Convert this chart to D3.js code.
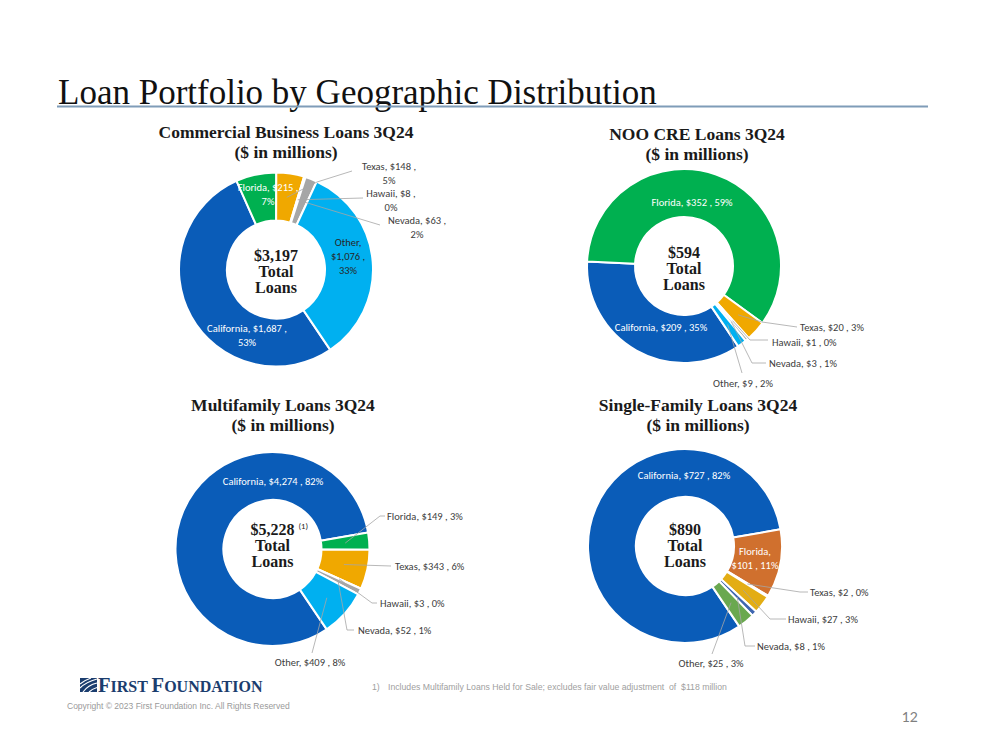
<!DOCTYPE html>
<html><head><meta charset="utf-8">
<script src="https://cdn.jsdelivr.net/npm/d3@7"></script>
<style>body{margin:0;background:#fff} svg{display:block}</style>
</head><body>
<svg id="c" width="999" height="750"></svg>
<script>
// ---------- DATA ----------
const regions = ["California", "Florida", "Texas", "Hawaii", "Nevada", "Other"];
const commercialValues = [1687, 215, 148, 8, 63, 1076];
const commercialPct    = [53, 7, 5, 0, 2, 33];
const nooCreValues     = [209, 352, 20, 1, 3, 9];
const nooCrePct        = [35, 59, 3, 0, 1, 2];
const multifamilyValues = [4274, 149, 343, 3, 52, 409];
const multifamilyPct    = [82, 3, 6, 0, 1, 8];
const singleFamilyValues = [727, 101, 2, 27, 8, 25];
const singleFamilyPct    = [82, 11, 0, 3, 1, 3];
const chartTitles = ["Commercial Business Loans 3Q24", "NOO CRE Loans 3Q24", "Multifamily Loans 3Q24", "Single-Family Loans 3Q24"];
const chartTotals = ["$3,197", "$594", "$5,228", "$890"];

// ---------- STYLE / LAYOUT ----------
const paletteStd = ["#0a5cb8", "#00b050", "#f0a800", "#a6a6a6", "#a6a6a6", "#00b0f0"];
const paletteSF  = ["#0a5cb8", "#d0702e", "#a6a6a6", "#e3ad14", "#3e66b0", "#6aa84f"];
const R_OUT = 97, R_IN = 49;
const START = 146 * Math.PI / 180;
const W = "#ffffff", DK = "#404040";

const layouts = [
  { cx: 276, cy: 269.5, tx: 286, ty: 132, textDy: -9, palette: paletteStd, values: commercialValues, pct: commercialPct,
    labels: {
      California: { x: 247, y: 328, a: "middle", c: W, lines: [[0, 1], [2]] },
      Florida:    { x: 268, y: 187, a: "middle", c: W, lines: [[0, 1], [2]] },
      Texas:      { x: 389, y: 166, a: "middle", c: DK, lines: [[0, 1], [2]], leader: [[317, 182], [352, 171]] },
      Hawaii:     { x: 391, y: 193, a: "middle", c: DK, lines: [[0, 1], [2]], leader: [[363, 198]] },
      Nevada:     { x: 417, y: 220, a: "middle", c: DK, lines: [[0, 1], [2]], leader: [[380, 225]] },
      Other:      { x: 348, y: 242, a: "middle", c: "#262626", lines: [[0], [1], [2]] }
    } },
  { cx: 684, cy: 266, tx: 697, ty: 134, textDy: -8, palette: paletteStd, values: nooCreValues, pct: nooCrePct,
    labels: {
      California: { x: 661, y: 327, a: "middle", c: W, lines: [[0, 1, 2]] },
      Florida:    { x: 692, y: 202, a: "middle", c: W, lines: [[0, 1, 2]] },
      Texas:      { x: 800, y: 327, a: "start", c: DK, lines: [[0, 1, 2]], leader: [[762, 322], [797, 327]] },
      Hawaii:     { x: 772, y: 342, a: "start", c: DK, lines: [[0, 1, 2]], leader: [[750, 340], [768, 340]] },
      Nevada:     { x: 769, y: 363, a: "start", c: DK, lines: [[0, 1, 2]], leader: [[752, 363], [766, 363]] },
      Other:      { x: 743, y: 383, a: "middle", c: DK, lines: [[0, 1, 2]], leader: [[742, 373]] }
    } },
  { cx: 272.5, cy: 549, tx: 283, ty: 405, textDy: -14, palette: paletteStd, values: multifamilyValues, pct: multifamilyPct,
    labels: {
      California: { x: 273, y: 481, a: "middle", c: W, lines: [[0, 1, 2]] },
      Florida:    { x: 387, y: 516, a: "start", c: DK, lines: [[0, 1, 2]], leader: [[380, 516], [385, 516]] },
      Texas:      { x: 395, y: 566, a: "start", c: DK, lines: [[0, 1, 2]], leader: [[391, 566]] },
      Hawaii:     { x: 380, y: 603, a: "start", c: DK, lines: [[0, 1, 2]], leader: [[372, 603], [377, 603]] },
      Nevada:     { x: 358, y: 630, a: "start", c: DK, lines: [[0, 1, 2]], leader: [[347, 630], [354, 630]] },
      Other:      { x: 310, y: 662, a: "middle", c: DK, lines: [[0, 1, 2]], leader: [[312, 653]] }
    } },
  { cx: 685, cy: 546, tx: 698, ty: 405, textDy: -11, palette: paletteSF, values: singleFamilyValues, pct: singleFamilyPct,
    labels: {
      California: { x: 684, y: 475, a: "middle", c: W, lines: [[0, 1, 2]] },
      Florida:    { x: 755, y: 551, a: "middle", c: W, lines: [[0], [1, 2]] },
      Texas:      { x: 810, y: 592, a: "start", c: DK, lines: [[0, 1, 2]], leader: [[800, 592], [808, 592]] },
      Hawaii:     { x: 788, y: 619, a: "start", c: DK, lines: [[0, 1, 2]], leader: [[770, 619], [786, 619]] },
      Nevada:     { x: 757, y: 646, a: "start", c: DK, lines: [[0, 1, 2]], leader: [[745, 646], [755, 646]] },
      Other:      { x: 711, y: 663, a: "middle", c: DK, lines: [[0, 1, 2]], leader: [[712, 654]] }
    } }
];

const svg = d3.select("#c");
svg.append("rect").attr("width", 999).attr("height", 750).attr("fill", "#fff");

// Page title
svg.append("text").attr("x", 58).attr("y", 104)
  .attr("font-family", "'Liberation Serif', serif").attr("font-size", 35).attr("fill", "#111")
  .text("Loan Portfolio by Geographic Distribution");
svg.append("line").attr("x1", 57).attr("x2", 928).attr("y1", 106.5).attr("y2", 106.5)
  .attr("stroke", "#7f9cb8").attr("stroke-width", 2);

const fmt = d3.format(",");
const LBL_FONT = "Carlito, Lato, sans-serif";
const SERIF = "'Liberation Serif', serif";

layouts.forEach((L, ci) => {
  const data = regions.map((r, i) => ({ region: r, value: L.values[i], pct: L.pct[i], idx: i }));
  const pie = d3.pie().value(d => d.value).sort(null).startAngle(START).endAngle(START + 2 * Math.PI);
  const arc = d3.arc().innerRadius(R_IN).outerRadius(R_OUT);
  const arcs = pie(data);
  const g = svg.append("g");
  const cg = g.append("g").attr("transform", `translate(${L.cx},${L.cy})`);
  cg.selectAll("path").data(arcs).join("path")
    .attr("d", arc)
    .attr("fill", d => L.palette[d.data.idx])
    .attr("stroke", "#fff").attr("stroke-width", 2).attr("stroke-linejoin", "round");

  // Titles
  g.append("text").attr("x", L.tx).attr("y", L.ty).attr("text-anchor", "middle").attr("dy", "0.35em")
    .attr("font-family", SERIF).attr("font-weight", "bold").attr("font-size", 17.5).attr("fill", "#1a1a1a")
    .text(chartTitles[ci]);
  g.append("text").attr("x", L.tx).attr("y", L.ty + 20).attr("text-anchor", "middle").attr("dy", "0.35em")
    .attr("font-family", SERIF).attr("font-weight", "bold").attr("font-size", 17.5).attr("fill", "#1a1a1a")
    .text("($ in millions)");

  // Center text
  const ct = [chartTotals[ci], "Total", "Loans"];
  const ctNodes = ct.map((t, k) => cg.append("text").attr("x", 0).attr("y", L.textDy + k * 16)
    .attr("text-anchor", "middle").attr("font-family", SERIF).attr("font-weight", "bold")
    .attr("font-size", 16).attr("fill", "#1a1a1a").text(t));
  if (ci === 2) {
    const bb = ctNodes[0].node().getBBox();
    cg.append("text").attr("x", bb.x + bb.width + 4).attr("y", L.textDy - 6)
      .attr("font-family", LBL_FONT).attr("font-size", 8.5).attr("fill", "#1a1a1a").text("(1)");
  }

  // Leader lines
  const line = d3.line();
  arcs.forEach(a => {
    const lay = L.labels[a.data.region];
    if (!lay.leader) return;
    const c = arc.centroid(a);
    const pts = [[L.cx + c[0], L.cy + c[1]], ...lay.leader];
    g.append("path").attr("d", line(pts)).attr("fill", "none")
      .attr("stroke", "#a6a6a6").attr("stroke-width", 0.8);
  });

  // Labels
  arcs.forEach(a => {
    const d = a.data;
    const lay = L.labels[d.region];
    const tokens = [`${d.region},`, `$${fmt(d.value)} ,`, `${d.pct}%`];
    const t = g.append("text").attr("font-family", LBL_FONT).attr("font-size", 10.5)
      .attr("fill", lay.c).attr("text-anchor", lay.a);
    lay.lines.forEach((ln, k) => {
      t.append("tspan").attr("x", lay.x).attr("y", lay.y + k * 14).attr("dy", "0.35em")
        .text(ln.map(j => tokens[j]).join(" "));
    });
  });
});

// Footer: logo
const logo = svg.append("g").attr("transform", "translate(80,678)");
logo.append("rect").attr("width", 17).attr("height", 14).attr("fill", "#1b3d6e");
[["M0,10 Q6,4 17,1"], ["M0,6 Q5,2 11,0"], ["M3,14 Q8,7 17,5"], ["M9,14 Q12,11 17,9.5"]].forEach(p => {
  logo.append("path").attr("d", p[0]).attr("fill", "none").attr("stroke", "#fff").attr("stroke-width", 1.2);
});
const lt = svg.append("text").attr("x", 98).attr("y", 692).attr("font-family", SERIF)
  .attr("font-weight", "bold").attr("fill", "#1b3d6e");
lt.append("tspan").attr("font-size", 20.5).text("F");
lt.append("tspan").attr("font-size", 16).text("IRST ");
lt.append("tspan").attr("font-size", 20.5).text("F");
lt.append("tspan").attr("font-size", 16).text("OUNDATION");

svg.append("text").attr("x", 67).attr("y", 709)
  .attr("font-family", "'Liberation Sans Narrow', 'Liberation Sans', sans-serif").attr("font-size", 8.5)
  .attr("fill", "#9a9a9a").text("Copyright © 2023 First Foundation Inc. All Rights Reserved");

const fn = svg.append("text").attr("y", 690)
  .attr("font-family", "'Liberation Sans Narrow', 'Liberation Sans', sans-serif").attr("font-size", 8.7)
  .attr("fill", "#a0a0a0");
fn.append("tspan").attr("x", 372).text("1)");
fn.append("tspan").attr("x", 388).attr("xml:space", "preserve")
  .text("Includes Multifamily Loans Held for Sale; excludes fair value adjustment  of  $118 million");

svg.append("text").attr("x", 918).attr("y", 722).attr("text-anchor", "end")
  .attr("font-family", "Lato, sans-serif").attr("font-size", 14).attr("fill", "#7f7f7f").text("12");
</script>
</body></html>
